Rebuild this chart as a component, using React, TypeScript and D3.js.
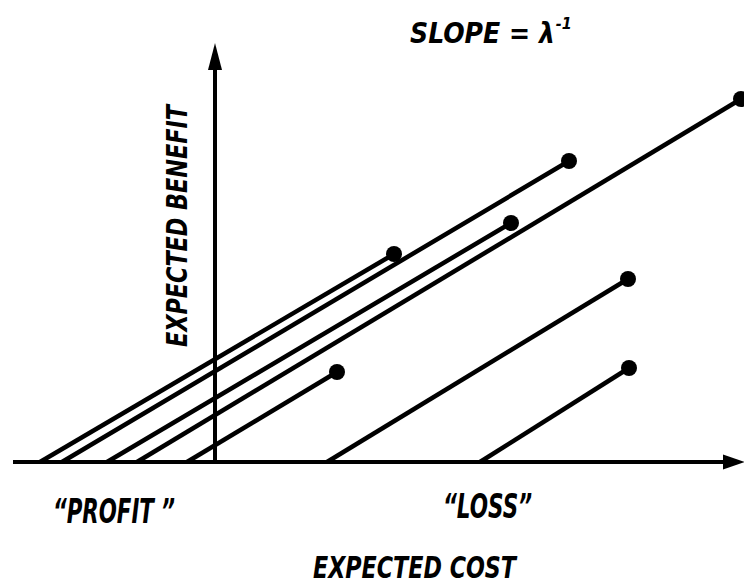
import * as d3 from "d3";

// each segment: starts on the cost axis (benefit 0) and ends at a dot
const costStart = [-8.75, -7.65, -5.4, -3.9, -1.4, 5.6, 13.25];
const costEnd = [8.95, 17.7, 14.8, 26.3, 6.1, 20.65, 20.7];
const benefitEnd = [10.4, 15.05, 11.95, 18.15, 4.5, 9.15, 4.7];

const costExtent = [-10.1, 26.5];
const benefitExtent = [0, 20.95];

const W = 744;
const H = 586;
const font = "'Liberation Sans Narrow', 'DejaVu Sans Condensed', 'Liberation Sans', sans-serif";

export default function App() {
  const x = d3.scaleLinear().domain([-10, 26.5]).range([15, 745]);
  const y = d3.scaleLinear().domain([0, 21]).range([462, 42]);

  const segs = costStart.map((c, i) => ({
    x0: c,
    x1: costEnd[i],
    y1: benefitEnd[i],
  }));

  const line = d3
    .line<[number, number]>()
    .x((d) => x(d[0]))
    .y((d) => y(d[1]));

  const ax0 = x(costExtent[0]);
  const ax1 = x(costExtent[1]);
  const ay = y(0);
  const vx = x(0);
  const vTop = y(benefitExtent[1]);

  const textStyle = {
    fontFamily: font,
    fontStyle: "italic" as const,
    fontWeight: 700,
    fill: "#000",
  };

  return (
    <svg
      width={W}
      height={H}
      viewBox={`0 0 ${W} ${H}`}
      style={{ position: "absolute", left: 0, top: 0, background: "#fff" }}
    >
      <rect width={W} height={H} fill="#fff" />

      {/* axes */}
      <line x1={ax0} y1={ay} x2={ax1 - 16} y2={ay} stroke="#000" strokeWidth={4} />
      <path
        d={`M${ax1},${ay} L${ax1 - 22},${ay - 7.5} L${ax1 - 22},${ay + 7.5} Z`}
        fill="#000"
      />
      <line x1={vx} y1={ay + 2} x2={vx} y2={vTop + 20} stroke="#000" strokeWidth={4} />
      <path
        d={`M${vx},${vTop} L${vx - 7},${vTop + 27} L${vx + 7},${vTop + 27} Z`}
        fill="#000"
      />

      {/* segments */}
      {segs.map((s, i) => (
        <g key={i}>
          <path
            d={line([
              [s.x0, 0],
              [s.x1, s.y1],
            ]) as string}
            stroke="#000"
            strokeWidth={4.5}
            fill="none"
          />
          <circle cx={x(s.x1)} cy={y(s.y1)} r={8} fill="#000" />
        </g>
      ))}

      {/* labels */}
      <text x={410} y={43} fontSize={28} style={textStyle}>
        SLOPE = λ
        <tspan dx={1} dy={-14} fontSize={16}>-1</tspan>
      </text>

      <text
        transform={`translate(187, 226) rotate(-90)`}
        textAnchor="middle"
        fontSize={28}
        textLength={242}
        lengthAdjust="spacingAndGlyphs"
        style={textStyle}
      >
        EXPECTED BENEFIT
      </text>

      <text
        x={53}
        y={523}
        fontSize={33}
        textLength={122}
        lengthAdjust="spacingAndGlyphs"
        style={textStyle}
      >
        “PROFIT ”
      </text>

      <text
        x={443}
        y={518}
        fontSize={33}
        textLength={89}
        lengthAdjust="spacingAndGlyphs"
        style={textStyle}
      >
        “LOSS”
      </text>

      <text
        x={313}
        y={578}
        fontSize={30}
        textLength={203}
        lengthAdjust="spacingAndGlyphs"
        style={textStyle}
      >
        EXPECTED COST
      </text>
    </svg>
  );
}
